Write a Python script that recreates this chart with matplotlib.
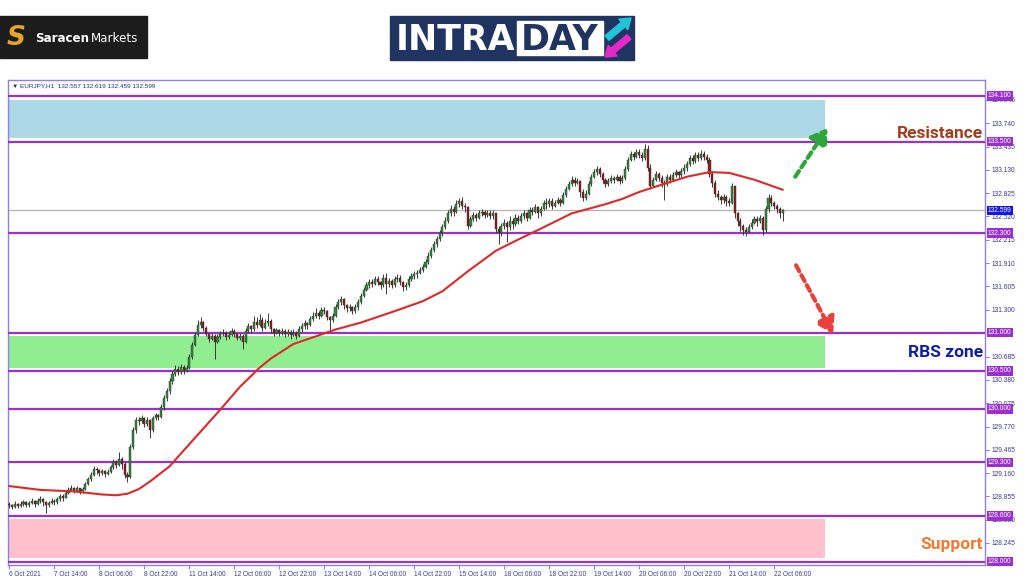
#!/usr/bin/env python3
"""
eurjpy_intraday.py

EURJPY H1 intraday levels chart (resistance / RBS zone / support).
Writes out.png.
"""

import matplotlib
matplotlib.use("Agg")
import matplotlib.pyplot as plt
from matplotlib.patches import Rectangle, FancyArrow
from matplotlib.transforms import IdentityTransform, blended_transform_factory

W, H = 1024, 583

# ---------------------------------------------------------------------------
# data (one row = 16 hourly bars)
# ---------------------------------------------------------------------------
first_open = 128.76

closes = [
    128.74, 128.72, 128.76, 128.73, 128.75, 128.78, 128.74, 128.77, 128.80, 128.76, 128.79, 128.82, 128.78, 128.74, 128.77, 128.80,
    128.78, 128.82, 128.86, 128.84, 128.90, 128.94, 128.97, 128.93, 128.96, 128.92, 128.95, 129.02, 129.08, 129.14, 129.22, 129.20,
    129.16, 129.19, 129.15, 129.18, 129.24, 129.30, 129.27, 129.35, 129.28, 129.14, 129.11, 129.50, 129.72, 129.86, 129.84, 129.88,
    129.80, 129.86, 129.72, 129.88, 129.92, 129.90, 130.02, 130.14, 130.24, 130.36, 130.46, 130.52, 130.48, 130.55, 130.50, 130.54,
    130.68, 130.84, 130.97, 131.10, 131.14, 131.06, 130.98, 130.92, 130.96, 130.88, 130.94, 130.98, 131.00, 130.94, 130.97, 131.02,
    130.98, 130.93, 130.96, 130.88, 131.02, 131.08, 131.04, 131.14, 131.10, 131.16, 131.06, 131.12, 131.15, 131.04, 131.00, 131.03,
    131.00, 131.02, 130.98, 131.01, 130.97, 131.00, 130.96, 131.04, 131.08, 131.12, 131.10, 131.18, 131.22, 131.26, 131.22, 131.30,
    131.28, 131.20, 131.16, 131.22, 131.34, 131.40, 131.44, 131.36, 131.32, 131.34, 131.28, 131.33, 131.40, 131.48, 131.56, 131.62,
    131.66, 131.64, 131.70, 131.66, 131.62, 131.72, 131.64, 131.68, 131.62, 131.70, 131.72, 131.66, 131.60, 131.62, 131.70, 131.74,
    131.76, 131.78, 131.82, 131.86, 131.92, 132.00, 132.08, 132.16, 132.22, 132.30, 132.38, 132.46, 132.56, 132.62, 132.58, 132.68,
    132.72, 132.66, 132.64, 132.40, 132.48, 132.54, 132.50, 132.56, 132.58, 132.54, 132.57, 132.52, 132.56, 132.36, 132.30, 132.40,
    132.44, 132.38, 132.46, 132.42, 132.50, 132.46, 132.52, 132.56, 132.50, 132.60, 132.58, 132.64, 132.56, 132.62, 132.70, 132.68,
    132.72, 132.66, 132.70, 132.74, 132.70, 132.80, 132.88, 132.94, 133.00, 132.96, 132.98, 132.84, 132.76, 132.82, 132.94, 133.04,
    133.10, 133.14, 133.08, 133.00, 132.94, 132.98, 133.02, 133.00, 133.04, 132.98, 133.02, 133.14, 133.26, 133.34, 133.30, 133.36,
    133.32, 133.28, 133.40, 133.16, 132.92, 133.00, 133.08, 133.02, 132.96, 132.94, 133.04, 133.00, 133.06, 133.10, 133.06, 133.12,
    133.16, 133.20, 133.28, 133.24, 133.32, 133.28, 133.34, 133.30, 133.26, 133.08, 132.96, 132.82, 132.78, 132.74, 132.78, 132.72,
    132.70, 132.92, 132.56, 132.46, 132.40, 132.34, 132.32, 132.38, 132.44, 132.48, 132.46, 132.50, 132.34, 132.62, 132.76, 132.70,
    132.66, 132.62, 132.56, 132.599,
]

highs = [
    128.78, 128.76, 128.79, 128.77, 128.79, 128.81, 128.79, 128.80, 128.84, 128.81, 128.83, 128.86, 128.83, 128.79, 128.80, 128.84,
    128.82, 128.85, 128.89, 128.88, 128.93, 128.98, 129.00, 128.98, 128.99, 128.97, 128.98, 129.05, 129.11, 129.18, 129.25, 129.24,
    129.22, 129.22, 129.20, 129.22, 129.27, 129.34, 129.33, 129.43, 129.37, 129.30, 129.18, 129.54, 129.76, 129.90, 129.89, 129.92,
    129.90, 129.89, 129.87, 129.91, 129.95, 129.94, 130.06, 130.18, 130.28, 130.40, 130.50, 130.57, 130.56, 130.59, 130.57, 130.58,
    130.72, 130.88, 131.01, 131.16, 131.20, 131.15, 131.08, 131.00, 131.00, 130.98, 130.98, 131.02, 131.05, 131.02, 131.01, 131.06,
    131.05, 131.00, 131.00, 130.98, 131.06, 131.12, 131.10, 131.22, 131.20, 131.24, 131.20, 131.18, 131.26, 131.18, 131.06, 131.06,
    131.05, 131.06, 131.04, 131.04, 131.03, 131.04, 131.02, 131.08, 131.12, 131.16, 131.14, 131.22, 131.27, 131.32, 131.28, 131.34,
    131.34, 131.30, 131.22, 131.26, 131.38, 131.44, 131.48, 131.45, 131.38, 131.38, 131.35, 131.37, 131.44, 131.52, 131.60, 131.66,
    131.70, 131.70, 131.74, 131.74, 131.68, 131.76, 131.78, 131.72, 131.70, 131.74, 131.76, 131.75, 131.68, 131.66, 131.74, 131.78,
    131.80, 131.82, 131.86, 131.90, 131.96, 132.05, 132.12, 132.20, 132.26, 132.34, 132.42, 132.51, 132.60, 132.67, 132.66, 132.74,
    132.76, 132.77, 132.70, 132.66, 132.52, 132.58, 132.57, 132.60, 132.62, 132.60, 132.61, 132.60, 132.60, 132.57, 132.40, 132.44,
    132.48, 132.46, 132.52, 132.50, 132.55, 132.54, 132.56, 132.60, 132.58, 132.64, 132.64, 132.68, 132.66, 132.66, 132.74, 132.76,
    132.76, 132.76, 132.74, 132.78, 132.76, 132.84, 132.92, 132.98, 133.05, 133.04, 133.02, 133.00, 132.88, 132.86, 132.98, 133.08,
    133.14, 133.18, 133.17, 133.10, 133.02, 133.02, 133.06, 133.05, 133.08, 133.06, 133.06, 133.18, 133.30, 133.38, 133.37, 133.40,
    133.40, 133.36, 133.47, 133.45, 133.20, 133.04, 133.12, 133.10, 133.06, 133.00, 133.08, 133.08, 133.10, 133.14, 133.12, 133.16,
    133.20, 133.24, 133.32, 133.32, 133.36, 133.36, 133.39, 133.38, 133.34, 133.30, 133.12, 133.00, 132.86, 132.80, 132.82, 132.80,
    132.76, 132.96, 132.90, 132.58, 132.50, 132.42, 132.38, 132.42, 132.48, 132.52, 132.52, 132.54, 132.52, 132.66, 132.81, 132.80,
    132.72, 132.68, 132.64, 132.62,
]

lows = [
    128.70, 128.69, 128.70, 128.70, 128.71, 128.73, 128.71, 128.72, 128.75, 128.72, 128.74, 128.77, 128.73, 128.64, 128.72, 128.75,
    128.74, 128.76, 128.80, 128.80, 128.83, 128.88, 128.92, 128.90, 128.91, 128.88, 128.90, 128.94, 129.00, 129.06, 129.12, 129.15,
    129.12, 129.13, 129.11, 129.13, 129.16, 129.22, 129.23, 129.25, 129.22, 129.10, 129.05, 129.09, 129.48, 129.68, 129.79, 129.82,
    129.76, 129.78, 129.62, 129.70, 129.86, 129.86, 129.88, 129.98, 130.10, 130.20, 130.32, 130.43, 130.44, 130.46, 130.46, 130.48,
    130.52, 130.66, 130.82, 130.95, 131.06, 131.02, 130.95, 130.88, 130.90, 130.65, 130.86, 130.91, 130.95, 130.90, 130.91, 130.95,
    130.94, 130.90, 130.90, 130.78, 130.86, 131.00, 131.00, 131.02, 131.06, 131.08, 131.02, 131.04, 131.09, 131.00, 130.96, 130.98,
    130.96, 130.97, 130.94, 130.95, 130.91, 130.95, 130.92, 130.94, 131.01, 131.05, 131.05, 131.08, 131.15, 131.19, 131.18, 131.20,
    131.24, 131.16, 131.02, 131.14, 131.20, 131.31, 131.36, 131.31, 131.27, 131.28, 131.24, 131.26, 131.30, 131.38, 131.46, 131.54,
    131.58, 131.60, 131.62, 131.62, 131.57, 131.60, 131.50, 131.60, 131.58, 131.60, 131.66, 131.62, 131.54, 131.56, 131.60, 131.68,
    131.70, 131.72, 131.76, 131.79, 131.84, 131.90, 131.98, 132.05, 132.12, 132.20, 132.27, 132.35, 132.44, 132.52, 132.53, 132.56,
    132.64, 132.62, 132.58, 132.36, 132.38, 132.46, 132.46, 132.48, 132.52, 132.50, 132.51, 132.48, 132.49, 132.30, 132.16, 132.26,
    132.36, 132.18, 132.34, 132.36, 132.40, 132.42, 132.44, 132.48, 132.46, 132.48, 132.54, 132.56, 132.50, 132.52, 132.60, 132.62,
    132.64, 132.62, 132.64, 132.68, 132.66, 132.68, 132.78, 132.86, 132.92, 132.92, 132.94, 132.78, 132.72, 132.74, 132.80, 132.92,
    133.02, 133.06, 133.04, 132.96, 132.90, 132.92, 132.96, 132.96, 132.98, 132.94, 132.96, 133.00, 133.12, 133.24, 133.26, 133.28,
    133.28, 133.24, 133.26, 133.12, 132.88, 132.90, 132.98, 132.98, 132.90, 132.74, 132.92, 132.96, 132.98, 133.04, 133.02, 133.04,
    133.08, 133.12, 133.18, 133.20, 133.22, 133.24, 133.26, 133.26, 133.22, 133.04, 132.90, 132.78, 132.74, 132.68, 132.70, 132.66,
    132.66, 132.68, 132.50, 132.40, 132.33, 132.28, 132.26, 132.30, 132.36, 132.42, 132.40, 132.44, 132.28, 132.32, 132.58, 132.66,
    132.62, 132.56, 132.50, 132.46,
]

# red moving average, read at a handful of bars
ma_bars = [0, 11, 23, 33, 38, 42, 46, 50, 57, 65, 75, 82, 89, 93, 101, 109, 116, 125, 137, 147,
           154, 163, 173, 180, 189, 200, 212, 218, 224, 229, 235, 241, 249, 256, 265, 275]
ma_values = [128.99, 128.94, 128.92, 128.88, 128.87, 128.89, 128.95, 129.05, 129.25, 129.58,
             129.99, 130.29, 130.54, 130.66, 130.85, 130.95, 131.04, 131.13, 131.28, 131.41,
             131.54, 131.80, 132.07, 132.20, 132.36, 132.56, 132.68, 132.75, 132.84, 132.90,
             132.97, 133.04, 133.10, 133.09, 133.00, 132.87]

time_labels = ["6 Oct 2021", "7 Oct 14:00", "8 Oct 06:00", "8 Oct 22:00", "11 Oct 14:00",
               "12 Oct 06:00", "12 Oct 22:00", "13 Oct 14:00", "14 Oct 06:00", "14 Oct 22:00",
               "15 Oct 14:00", "18 Oct 06:00", "18 Oct 22:00", "19 Oct 14:00", "20 Oct 06:00",
               "20 Oct 22:00", "21 Oct 14:00", "22 Oct 06:00"]
bars_per_label = 16

price_ticks = [128.245, 128.550, 128.855, 129.160, 129.465, 129.770, 130.075, 130.380,
               130.685, 131.300, 131.605, 131.910, 132.215, 132.520, 132.825, 133.130,
               133.435, 133.740, 134.045]

levels = [134.100, 133.500, 132.300, 131.000, 130.500, 130.000, 129.300, 128.600, 128.000]
current_price = 132.599

zones = [
    ("Resistance", 133.55, 134.05, "#add8e6", "#a33c1c", 133.61),
    ("RBS zone", 130.54, 130.95, "#90ee90", "#0f1ea8", 130.745),
    ("Support", 128.05, 128.56, "#ffc0cb", "#f07a30", 128.22),
]

header = "\u25bc EURJPY,H1  132.557 132.619 132.459 132.599"


def px(x, y):
    """Screenshot pixel (from top-left) -> figure fraction."""
    return x / W, 1 - y / H


def draw_logos(fig):
    # Saracen Markets badge
    fig.add_artist(Rectangle(px(0, 58), 147 / W, 42 / H, transform=fig.transFigure,
                             color="#1c1c1c", zorder=1))
    fig.text(*px(16, 38), "S", fontsize=19, fontweight="heavy", style="italic",
             family="DejaVu Sans", color="#e6a52a", ha="center", va="center", zorder=2)
    fig.text(*px(35, 42), "Saracen", fontsize=8.6, fontweight="bold", color="white",
             family="DejaVu Sans", ha="left", va="baseline", zorder=2)
    fig.text(*px(138, 42), "Markets", fontsize=8.6, color="white",
             family="DejaVu Sans", ha="right", va="baseline", zorder=2)

    # INTRADAY badge
    fig.add_artist(Rectangle(px(390, 60), 244 / W, 44 / H, transform=fig.transFigure,
                             color="#1f3461", zorder=1))
    fig.add_artist(Rectangle(px(517, 55), 86 / W, 34 / H, transform=fig.transFigure,
                             color="white", zorder=2))
    fig.text(*px(396, 50), "INTRA", fontsize=25, fontweight="bold", color="white",
             family="DejaVu Sans", ha="left", va="baseline", zorder=3)
    fig.text(*px(560, 50), "DAY", fontsize=25, fontweight="bold", color="#1f3461",
             family="DejaVu Sans", ha="center", va="baseline", zorder=3)
    fig.add_artist(FancyArrow(607, H - 38, 24, 20, width=6, head_width=14, head_length=10,
                              length_includes_head=True, color="#22c3d6",
                              transform=IdentityTransform(), zorder=3))
    fig.add_artist(FancyArrow(629, H - 37, -24, -20, width=6, head_width=14, head_length=10,
                              length_includes_head=True, color="#e32ac9",
                              transform=IdentityTransform(), zorder=3))


def draw_candles(ax):
    opens = [first_open] + closes[:-1]
    xs = list(range(len(closes)))
    hi = [max(h, o, c) for h, o, c in zip(highs, opens, closes)]
    lo = [min(l, o, c) for l, o, c in zip(lows, opens, closes)]
    colors = ["#2f8a3a" if c >= o else "#8e1c1c" for o, c in zip(opens, closes)]
    ax.vlines(xs, lo, hi, color="#3a3a3a", lw=0.7, zorder=4)
    bottoms = [min(o, c) for o, c in zip(opens, closes)]
    heights = [max(abs(c - o), 0.01) for o, c in zip(opens, closes)]
    ax.bar(xs, heights, bottom=bottoms, width=0.75, color=colors,
           edgecolor="#2a2a2a", lw=0.3, zorder=5)


def main():
    plt.rcParams["font.family"] = ["Liberation Sans", "DejaVu Sans"]
    fig = plt.figure(figsize=(W / 100, H / 100), dpi=100)
    fig.patch.set_facecolor("white")

    left, right, top, bottom = 8, 985, 80, 565
    ax = fig.add_axes([left / W, 1 - bottom / H, (right - left) / W, (bottom - top) / H])
    ax.set_xlim(-0.5, 347)
    ax.set_ylim(127.957, 134.306)

    mix = blended_transform_factory(ax.transAxes, ax.transData)
    zone_right = (825 - left) / (right - left)

    for name, y0, y1, fill, tcolor, ty in zones:
        ax.axhspan(y0, y1, xmin=0, xmax=zone_right, color=fill, lw=0, zorder=1)
        ax.text(0.998, ty, name, transform=mix, ha="right", va="center",
                fontsize=12.5, fontweight="bold", family="Roboto", color=tcolor, zorder=8)

    for lvl in levels:
        ax.axhline(lvl, color="#9b30d0", lw=1.6, zorder=3)
    ax.axhline(current_price, color="#b4b4b4", lw=0.9, zorder=2)

    draw_candles(ax)
    ax.plot(ma_bars, ma_values, color="#e02828", lw=1.5, zorder=6)

    # dashed projection arrows
    ax.annotate("", xy=(291, 133.68), xytext=(279.5, 133.04),
                arrowprops=dict(arrowstyle="-|>,head_width=0.5,head_length=0.8",
                                lw=3, ls=(0, (1.6, 1.1)), color="#2ea63a",
                                mutation_scale=12, shrinkA=0, shrinkB=0), zorder=7)
    ax.annotate("", xy=(293, 130.98), xytext=(279.8, 131.88),
                arrowprops=dict(arrowstyle="-|>,head_width=0.5,head_length=0.8",
                                lw=3, ls=(0, (1.6, 1.1)), color="#e8403a",
                                mutation_scale=12, shrinkA=0, shrinkB=0), zorder=7)

    # frame + axes styling
    for sp in ax.spines.values():
        sp.set_color("#8c82e6")
        sp.set_linewidth(1)
    tick_color = "#3a3a90"
    ax.yaxis.tick_right()
    ax.set_yticks(price_ticks)
    ax.set_yticklabels([f"{v:.3f}" for v in price_ticks])
    ax.tick_params(axis="y", direction="out", length=3, width=0.8, color="#8c82e6",
                   labelsize=4.8, labelcolor=tick_color, pad=1.5)

    ax.set_xticks([i * bars_per_label for i in range(len(time_labels))])
    ax.set_xticklabels(time_labels)
    ax.tick_params(axis="x", direction="out", length=3, width=0.8, color="#8c82e6",
                   labelsize=4.7, labelcolor=tick_color, pad=1.5)
    for lbl in ax.get_xticklabels():
        lbl.set_ha("left")

    # highlighted price labels on the scale
    for lvl in levels:
        ax.text(1.003, lvl, f"{lvl:.3f}", transform=mix, ha="left", va="center",
                fontsize=4.8, color="white", zorder=10, clip_on=False,
                bbox=dict(facecolor="#9b30d0", edgecolor="none", pad=0.9))
    ax.text(1.003, current_price, f"{current_price:.3f}", transform=mix, ha="left",
            va="center", fontsize=4.8, color="white", zorder=10, clip_on=False,
            bbox=dict(facecolor="#1414e6", edgecolor="none", pad=0.9))

    fig.text(*px(12, 86), header, fontsize=4.6, color="#2b2b8a", ha="left", va="center")

    draw_logos(fig)

    fig.savefig("out.png", dpi=100, facecolor="white")


if __name__ == "__main__":
    main()
